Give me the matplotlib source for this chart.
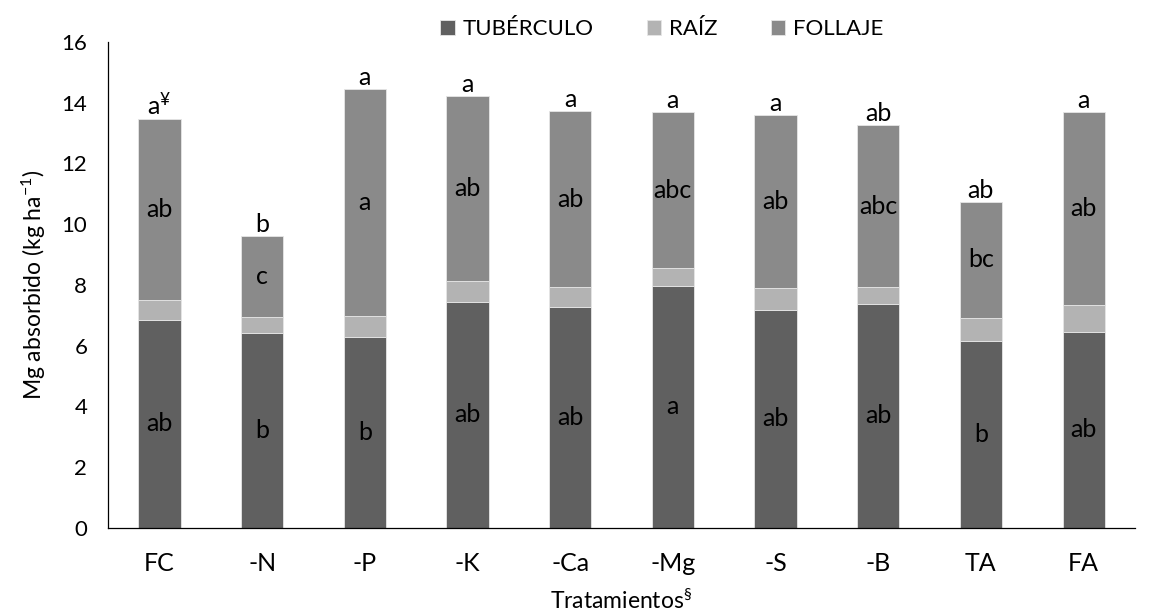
import matplotlib

matplotlib.use("Agg")

import numpy as np  # noqa: E402
from matplotlib import pyplot as plt  # noqa: E402

plt.rcParams["font.family"] = ["Lato", "DejaVu Sans"]
plt.rcParams["mathtext.fontset"] = "custom"
plt.rcParams["mathtext.rm"] = "Lato"
plt.rcParams["mathtext.it"] = "Lato:italic"

treatments = ["FC", "-N", "-P", "-K", "-Ca", "-Mg", "-S", "-B", "TA", "FA"]
tuberculo = [6.85, 6.43, 6.27, 7.44, 7.28, 7.98, 7.19, 7.38, 6.15, 6.45]
raiz = [0.65, 0.52, 0.71, 0.69, 0.65, 0.58, 0.70, 0.55, 0.77, 0.90]
follaje = [5.96, 2.65, 7.47, 6.09, 5.79, 5.12, 5.71, 5.33, 3.81, 6.35]

labels_tuberculo = ["ab", "b", "b", "ab", "ab", "a", "ab", "ab", "b", "ab"]
labels_follaje = ["ab", "c", "a", "ab", "ab", "abc", "ab", "abc", "bc", "ab"]
labels_total = ["a", "b", "a", "a", "a", "a", "a", "ab", "ab", "a"]

c_tub = "#606060"
c_raiz = "#b3b3b3"
c_fol = "#8a8a8a"

fig = plt.figure(figsize=(11.51, 6.16), dpi=100)
ax = fig.add_axes([0.094, 0.143, 0.892, 0.789])

x = np.arange(len(treatments))
tub = np.array(tuberculo)
rz = np.array(raiz)
fol = np.array(follaje)
width = 0.41
edge = dict(edgecolor="#e6e6e6", linewidth=0.6)

ax.bar(x, tub, width, color=c_tub, label="TUBÉRCULO", **edge)
ax.bar(x, rz, width, bottom=tub, color=c_raiz, label="RAÍZ", **edge)
ax.bar(x, fol, width, bottom=tub + rz, color=c_fol, label="FOLLAJE", **edge)

fs = 18
for i in range(len(treatments)):
    ax.text(x[i], tub[i] / 2, labels_tuberculo[i], ha="center", va="center", fontsize=fs)
    ax.text(x[i], tub[i] + rz[i] + fol[i] / 2, labels_follaje[i],
            ha="center", va="center", fontsize=fs)
    total = tub[i] + rz[i] + fol[i]
    txt = labels_total[i] + ("$^{¥}$" if i == 0 else "")
    ax.annotate(txt, (x[i], total), xytext=(0, 0), textcoords="offset points",
                ha="center", va="bottom", fontsize=fs)

ax.set_xlim(-0.5, len(treatments) - 0.5)
ax.set_ylim(0, 16)
ax.set_yticks(range(0, 17, 2))
ax.set_xticks(x)
ax.set_xticklabels(treatments, fontsize=fs)
ax.tick_params(axis="y", length=0, labelsize=16, pad=15)
ax.tick_params(axis="x", length=0, pad=17)
for side in ["top", "right"]:
    ax.spines[side].set_visible(False)
ax.spines["left"].set_linewidth(0.9)
ax.spines["bottom"].set_linewidth(0.9)

ax.set_ylabel("Mg absorbido (kg ha$^{-1}$)", fontsize=16.5, labelpad=10)
ax.set_xlabel("Tratamientos$^{§}$", fontsize=16.5, labelpad=10)

fig.legend(loc="center", bbox_to_anchor=(0.575, 0.953), ncol=3, frameon=False,
           fontsize=16, handlelength=0.65, handleheight=0.65, columnspacing=2.4,
           handletextpad=0.35)

fig.savefig("out.png", dpi=100)
